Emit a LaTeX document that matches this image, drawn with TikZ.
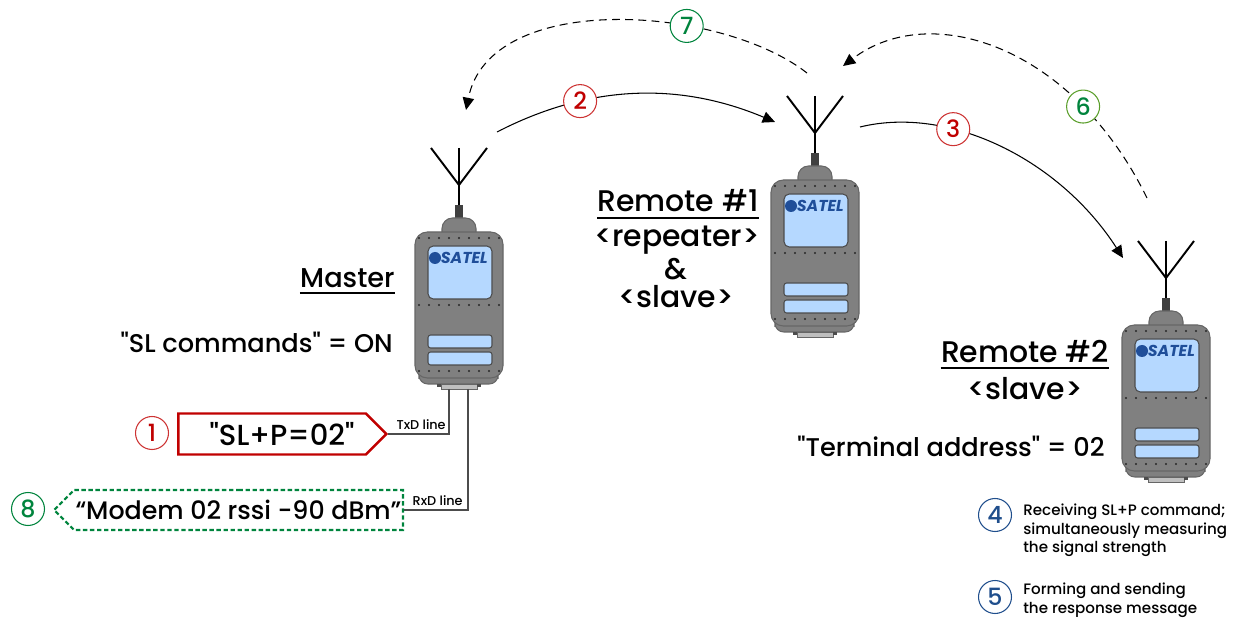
\documentclass[tikz,border=0pt]{standalone}
\usepackage{fontspec}
\setmainfont{Poppins}[UprightFont={* Medium}, BoldFont={* Bold}, ItalicFont={* Medium Italic}, BoldItalicFont={* Bold Italic}, Ligatures=TeXOff]
\usepackage{tikz}
\usetikzlibrary{arrows.meta,shapes.symbols}
\definecolor{satel_red}{HTML}{C00000}
\definecolor{satel_green}{HTML}{00843D}
\definecolor{satel_olive}{HTML}{5A9E2A}
\definecolor{satel_navy}{HTML}{1F4E8C}
\definecolor{body_gray}{HTML}{808080}
\definecolor{screen_blue}{HTML}{B5D8FF}
\definecolor{logo_blue}{HTML}{1F4E99}

\tikzset{
    midtext/.style={font=\fontsize{14.6}{16}\selectfont, inner sep=0pt},
    bigtext/.style={font=\fontsize{17}{19}\selectfont, inner sep=0pt},
    desc/.style={font=\fontsize{8.6}{10.4}\selectfont, inner sep=0pt, align=left},
    wirelabel/.style={font=\fontsize{7.3}{8}\selectfont, inner sep=0pt},
    numcirc/.style={circle, draw, solid, fill=white, minimum size=0.66cm, inner sep=0pt, line width=0.6pt, font=\fontsize{13.5}{14}\selectfont},
    redcirc/.style={numcirc, draw=satel_red!80, text=satel_red},
    greencirc/.style={numcirc, draw=satel_green, text=satel_green},
    olivecirc/.style={numcirc, draw=satel_olive, text=satel_green},
    bluecirc/.style={numcirc, draw=satel_navy, text=satel_navy},
    radiolink/.style={-{Triangle[length=7pt,width=6.5pt]}, line width=0.6pt},
    replylink/.style={radiolink, dash pattern=on 4.5pt off 3pt},
    cmdbox/.style={midtext, font=\fontsize{16.5}{18}\selectfont, signal, signal to=east, draw=satel_red, line width=1.4pt, minimum width=4.16cm, minimum height=0.82cm},
    respbox/.style={midtext, font=\fontsize{14.4}{16}\selectfont, signal, signal to=west, draw=satel_green, line width=1.2pt, dash pattern=on 2.5pt off 1.5pt, minimum width=6.98cm, minimum height=0.8cm},
    wire/.style={draw=black!70, line width=0.6pt},
    ulline/.style={line width=1.1pt},
    antline/.style={line width=1.1pt},
    bodyshape/.style={fill=body_gray, draw=black!60, line width=0.6pt},
    screen/.style={fill=screen_blue, draw=black!70, line width=0.6pt},
    logo/.style={font=\fontsize{9}{9}\selectfont\bfseries\itshape, text=logo_blue, inner sep=0pt}
}

% #1 name, #2 x of centre, #3 y of body top
\newcommand{\satelmodem}[3]{%
    \begin{scope}[shift={(#2,#3)}]
        \draw[antline] (-28,-84) -- (0,-47) -- (28,-84);
        \draw[antline] (0,-84) -- (0,-27);
        \fill[black!75] (-4,-27) rectangle (4,-9);
        \draw[bodyshape, rounded corners=6] (-17,3) -- (-17,-14) -- (17,-14) -- (17,3);
        \draw[bodyshape, rounded corners=5] (-40,138) rectangle (39,152);
        \draw[bodyshape, rounded corners=7] (-44,0) rectangle (44,146);
        \filldraw[fill=black!25, draw=black!60, line width=0.5pt] (-18,152) rectangle (18,157);
        \fill[black!70] (-22,152) rectangle (-18,155);
        \fill[black!70] (18,152) rectangle (22,155);
        \draw[screen, rounded corners=3] (-31,14) rectangle (33,67);
        \draw[screen, rounded corners=1.5] (-31,103) rectangle (33,116);
        \draw[screen, rounded corners=1.5] (-31,120) rectangle (33,133);
        \foreach \dy in {6,73,139}
            \foreach \dx in {-40,-30,...,40}
                \fill[black!85] (\dx,\dy) circle (1.2);
        \fill[logo_blue] (-24,26) circle (6);
        \node[logo, anchor=west] (#1logo) at (-18.5,26) {SATEL};
    \end{scope}
}

\begin{document}
\begin{tikzpicture}[x=0.02cm, y=-0.02cm]
    \useasboundingbox (0,0) rectangle (1258,621);

    \satelmodem{master}{459}{232}
    \satelmodem{remoteA}{815}{180}
    \satelmodem{remoteB}{1166}{325}

    % labels
    \node[midtext, font=\fontsize{15.5}{17}\selectfont, anchor=base east] (masterlbl) at (395,288) {Master};
    \draw[ulline] ([yshift=-2.8pt]masterlbl.base west) -- ([yshift=-2.8pt]masterlbl.base east);
    \node[midtext, anchor=base east] (slcmd) at (393,353) {"SL commands" = ON};

    \node[bigtext, anchor=base] (remoteAlbl) at (678,212) {Remote \#1};
    \draw[ulline] ([yshift=-3.4pt]remoteAlbl.base west) -- ([yshift=-3.4pt]remoteAlbl.base east);
    \node[bigtext, anchor=base] (remoteArep) at (677,247) {<repeater>};
    \node[bigtext, anchor=base] (remoteAamp) at (676,280) {\&};
    \node[bigtext, anchor=base] (remoteAslv) at (676,308) {<slave>};

    \node[bigtext, anchor=base] (remoteBlbl) at (1025,363) {Remote \#2};
    \draw[ulline] ([yshift=-2.8pt]remoteBlbl.base west) -- ([yshift=-2.8pt]remoteBlbl.base east);
    \node[bigtext, anchor=base] (remoteBslv) at (1025,400) {<slave>};
    \node[midtext, anchor=base east] (termaddr) at (1105,457) {"Terminal address" = 02};

    % serial side of the master
    \node[cmdbox, anchor=east] (cmd) at (388,434) {\hspace*{0.4cm}"SL+P=02"};
    \node[respbox, anchor=east] (resp) at (404,510) {“Modem 02 rssi -90 dBm”};
    \coordinate (txd) at (449,389);
    \coordinate (rxd) at (468,389);
    \draw[wire] (txd) |- (cmd.east);
    \draw[wire] (rxd) |- (resp.east);
    \node[wirelabel, anchor=base east] (txdlbl) at (446,430) {TxD line};
    \node[wirelabel, anchor=base east] (rxdlbl) at (463,505) {RxD line};

    \node[redcirc] (n1) at (152,433) {1};
    \node[greencirc] (n8) at (28,509) {8};

    % radio hops
    \coordinate (hopAs) at (497,132);
    \coordinate (hopAe) at (775,122);
    \coordinate (hopBs) at (860,127);
    \coordinate (hopBe) at (1123,258);
    \coordinate (backAs) at (1147,198);
    \coordinate (backAe) at (843,66);
    \coordinate (backBs) at (807,73);
    \coordinate (backBe) at (466,110);

    \draw[radiolink] (hopAs) .. controls (590,84) and (680,82) .. (hopAe) node[pos=0.3, redcirc] (n2) {2};
    \draw[radiolink] (hopBs) .. controls (950,105) and (1060,160) .. (hopBe) node[pos=0.33, redcirc] (n3) {3};
    \draw[replylink] (backAs) .. controls (1072,45) and (930,0) .. (backAe) node[pos=0.24, olivecirc] (n6) {6};
    \draw[replylink] (backBs) .. controls (720,5) and (490,-10) .. (backBe) node[pos=0.33, greencirc] (n7) {7};

    % remote #2 steps
    \node[bluecirc] (n4) at (995,515) {4};
    \node[bluecirc] (n5) at (995,597) {5};
    \node[desc, anchor=north west] (desc4) at (1023,504) {Receiving SL+P command;\\simultaneously measuring\\the signal strength};
    \node[desc, anchor=north west] (desc5) at (1023,583) {Forming and sending\\the response message};
\end{tikzpicture}
\end{document}
